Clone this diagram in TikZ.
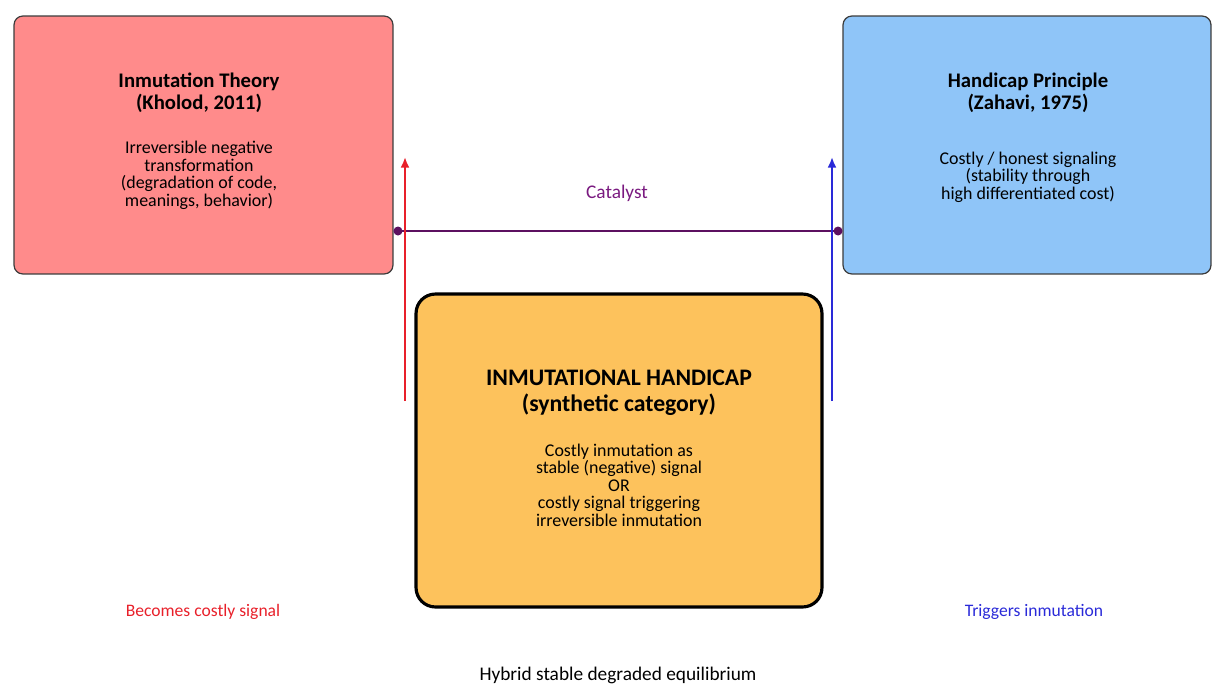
\documentclass[tikz,border=0pt]{standalone}
\usepackage{fontspec}
\setmainfont{Carlito}
\usetikzlibrary{positioning,arrows.meta}

\definecolor{inmutred}{HTML}{FF8B8B}
\definecolor{handiblue}{HTML}{8FC5F8}
\definecolor{synthorange}{HTML}{FDC25C}
\definecolor{boxline}{HTML}{3C3C3C}
\definecolor{catpurple}{HTML}{7A1A80}
\definecolor{catline}{HTML}{5C1060}
\definecolor{sigred}{HTML}{E8202A}
\definecolor{sigblue}{HTML}{2A2AD8}

\begin{document}
\begin{tikzpicture}[x=0.02cm, y=-0.02cm,
  theorybox/.style={draw=boxline, line width=0.7pt, rounded corners=5pt,
    minimum height=5.16cm, inner sep=0pt},
  synthbox/.style={draw=black, line width=1.8pt, rounded corners=11pt, fill=synthorange,
    minimum width=8.12cm, minimum height=6.26cm, inner sep=0pt},
  titletext/.style={align=center, inner sep=0pt, font=\bfseries\fontsize{11.8}{12.6}\selectfont},
  bodytext/.style={align=center, inner sep=0pt, font=\fontsize{10.2}{10}\selectfont},
  sigarrow/.style={line width=1.1pt, -{Latex[length=6pt,width=5pt]}},
  sidelabel/.style={font=\fontsize{10}{11}\selectfont}]
  \useasboundingbox (0,0) rectangle (1212,684);

  % Source theories
  \node[theorybox, fill=inmutred, minimum width=7.58cm] (inmut) at (203.5,145) {};
  \node[titletext] (inmuttitle) at (199,92.5) {Inmutation Theory\\(Kholod, 2011)};
  \node[bodytext, below=16pt of inmuttitle] (inmutbody) {Irreversible negative\\transformation\\(degradation of code,\\meanings, behavior)};

  \node[theorybox, fill=handiblue, minimum width=7.36cm] (handi) at (1027,145) {};
  \node[titletext] (handititle) at (1028,92.5) {Handicap Principle\\(Zahavi, 1975)};
  \node[bodytext, below=22pt of handititle] (handibody) {Costly / honest signaling\\(stability through\\high differentiated cost)};

  % Synthetic category
  \node[synthbox] (synth) at (619,450.5) {};
  \node[titletext, font=\bfseries\fontsize{13.5}{14.8}\selectfont] (synthtitle) at (619,393)
    {INMUTATIONAL HANDICAP\\(synthetic category)};
  \node[bodytext, below=15.5pt of synthtitle] (synthbody)
    {Costly inmutation as\\stable (negative) signal\\OR\\costly signal triggering\\irreversible inmutation};

  % Catalyst link
  \coordinate (catrow) at (0,231);
  \draw[catline, line width=1.5pt, {Circle[length=5pt]}-{Circle[length=5pt]}]
    (inmut.east |- catrow) -- (handi.west |- catrow);
  \node[text=catpurple, font=\fontsize{11}{12}\selectfont] (catalyst) at (617,193) {Catalyst};

  % Signal arrows
  \coordinate (redfoot) at (405,401);
  \coordinate (redtip) at (405,157);
  \coordinate (bluefoot) at (832,401);
  \coordinate (bluetip) at (832,157);
  \draw[sigarrow, sigred] (redfoot) -- (redtip);
  \draw[sigarrow, sigblue] (bluefoot) -- (bluetip);

  % Labels
  \node[sidelabel, text=sigred] (costly) at (203,612) {Becomes costly signal};
  \node[sidelabel, text=sigblue] (trigger) at (1034,612) {Triggers inmutation};
  \node[sidelabel, font=\fontsize{11}{12}\selectfont] (equil) at (618,675) {Hybrid stable degraded equilibrium};
\end{tikzpicture}
\end{document}
